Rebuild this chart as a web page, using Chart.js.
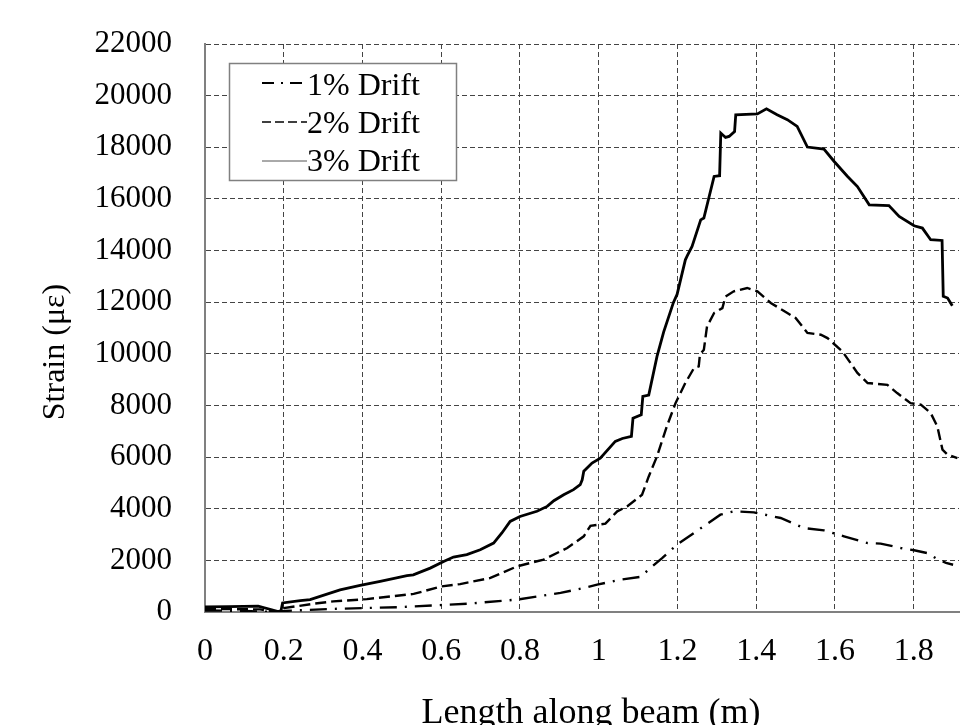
<!DOCTYPE html>
<html>
<head>
<meta charset="utf-8">
<script src="https://cdn.jsdelivr.net/npm/chart.js@4/dist/chart.umd.min.js"></script>
<style>
  html, body { margin: 0; padding: 0; background: #fff; overflow: hidden; }
  canvas { display: block; }
</style>
</head>
<body>
<canvas id="strainChart" width="961" height="750"></canvas>
<script>
// Series labels
const seriesLabels = ["1% Drift", "2% Drift", "3% Drift"];

// Tick labels
const xTicks = [0, 0.2, 0.4, 0.6, 0.8, 1, 1.2, 1.4, 1.6, 1.8];
const yTicks = [0, 2000, 4000, 6000, 8000, 10000, 12000, 14000, 16000, 18000, 20000, 22000];

// 1% Drift (dash-dot)
const drift1X = [0, 0.1, 0.186, 0.2, 0.326, 0.496, 0.665, 0.793, 0.903, 0.962, 0.996, 1.055, 1.106, 1.131, 1.161, 1.199, 1.254, 1.309, 1.343, 1.394, 1.462, 1.521, 1.572, 1.623, 1.683, 1.716, 1.767, 1.801, 1.835, 1.86, 1.882, 1.9];
const drift1Y = [60, 40, 0, 40, 120, 190, 320, 480, 740, 930, 1060, 1250, 1360, 1700, 2090, 2610, 3190, 3770, 3900, 3860, 3640, 3250, 3160, 2930, 2670, 2650, 2480, 2390, 2280, 2050, 1900, 1830];

// 2% Drift (dashed)
const drift2X = [0, 0.07, 0.14, 0.186, 0.2, 0.28, 0.326, 0.411, 0.47, 0.53, 0.6, 0.648, 0.725, 0.793, 0.86, 0.92, 0.962, 0.979, 1.017, 1.047, 1.072, 1.11, 1.127, 1.148, 1.173, 1.195, 1.22, 1.242, 1.254, 1.257, 1.267, 1.275, 1.293, 1.314, 1.322, 1.343, 1.377, 1.403, 1.437, 1.479, 1.5, 1.53, 1.564, 1.581, 1.619, 1.657, 1.683, 1.733, 1.758, 1.792, 1.818, 1.843, 1.86, 1.873, 1.886, 1.911];
const drift2Y = [120, 110, 100, 0, 150, 330, 410, 500, 600, 700, 990, 1080, 1320, 1770, 2030, 2480, 2930, 3340, 3420, 3900, 4090, 4540, 5250, 6030, 7190, 8090, 8870, 9450, 9510, 9970, 10160, 11060, 11580, 11770, 12220, 12420, 12550, 12420, 11970, 11580, 11390, 10810, 10740, 10610, 10090, 9260, 8870, 8800, 8480, 8090, 8030, 7710, 7190, 6290, 6090, 5960];

// 3% Drift (solid)
const drift3X = [0, 0.06, 0.135, 0.186, 0.193, 0.197, 0.242, 0.267, 0.343, 0.394, 0.445, 0.513, 0.529, 0.572, 0.606, 0.631, 0.665, 0.699, 0.733, 0.754, 0.775, 0.8, 0.843, 0.869, 0.886, 0.911, 0.936, 0.953, 0.958, 0.962, 0.983, 1.004, 1.042, 1.06, 1.083, 1.087, 1.108, 1.112, 1.127, 1.148, 1.165, 1.19, 1.199, 1.22, 1.225, 1.237, 1.259, 1.267, 1.293, 1.307, 1.31, 1.322, 1.331, 1.345, 1.348, 1.403, 1.426, 1.453, 1.479, 1.504, 1.53, 1.572, 1.598, 1.632, 1.657, 1.687, 1.737, 1.763, 1.801, 1.822, 1.843, 1.872, 1.875, 1.886, 1.898];
const drift3Y = [200, 210, 230, 20, 50, 350, 440, 480, 860, 1030, 1190, 1410, 1440, 1700, 1960, 2130, 2220, 2410, 2670, 3060, 3510, 3700, 3900, 4090, 4310, 4540, 4740, 4930, 5120, 5450, 5770, 5960, 6610, 6720, 6800, 7510, 7640, 8350, 8400, 9900, 10850, 12000, 12300, 13640, 13800, 14160, 15190, 15260, 16870, 16900, 18550, 18380, 18420, 18610, 19260, 19290, 19490, 19260, 19070, 18810, 18010, 17930, 17450, 16870, 16480, 15770, 15740, 15320, 14960, 14870, 14420, 14390, 12230, 12160, 11860];

const serif = "'Liberation Serif', 'Times New Roman', serif";

function toPoints(xs, ys) {
    return xs.map((x, i) => ({ x: x, y: ys[i] }));
}

// Legend box drawn inside the plot, like the original
const boxLegend = {
    id: 'boxLegend',
    afterDraw(chart) {
        const ctx = chart.ctx;
        ctx.save();
        ctx.fillStyle = '#fff';
        ctx.fillRect(229, 63, 227, 117);
        ctx.strokeStyle = '#808080';
        ctx.lineWidth = 1.5;
        ctx.strokeRect(229.5, 63.5, 227, 117);

        const lineY = [83, 122, 161];
        const textY = [94.5, 132.5, 171];
        const widths = [2, 1.3, 1];
        const dashes = [[12, 7, 2, 7], [9, 4], []];
        const colors = ['#000', '#000', '#555'];
        chart.data.datasets.forEach((ds, i) => {
            ctx.beginPath();
            ctx.setLineDash(dashes[i]);
            ctx.lineWidth = widths[i];
            ctx.strokeStyle = colors[i];
            ctx.moveTo(262, lineY[i]);
            ctx.lineTo(307, lineY[i]);
            ctx.stroke();
            ctx.setLineDash([]);
            ctx.fillStyle = '#000';
            ctx.font = '32px ' + serif;
            ctx.textBaseline = 'alphabetic';
            ctx.textAlign = 'left';
            ctx.fillText(ds.label, 307, textY[i]);
        });
        ctx.restore();
    }
};

const ctx = document.getElementById("strainChart");

new Chart(ctx, {
    type: 'line',
    data: {
        datasets: [
            {
                label: seriesLabels[0],
                data: toPoints(drift1X, drift1Y),
                borderColor: '#000',
                borderWidth: 2.4,
                borderDash: [17, 8, 2, 8],
                pointRadius: 0,
                tension: 0
            },
            {
                label: seriesLabels[1],
                data: toPoints(drift2X, drift2Y),
                borderColor: '#000',
                borderWidth: 2.4,
                borderDash: [11, 5],
                pointRadius: 0,
                tension: 0
            },
            {
                label: seriesLabels[2],
                data: toPoints(drift3X, drift3Y),
                borderColor: '#000',
                borderWidth: 2.8,
                pointRadius: 0,
                tension: 0
            }
        ]
    },
    options: {
        responsive: false,
        animation: false,
        layout: { padding: { left: 0, right: 2, top: 44, bottom: 0 } },
        plugins: {
            legend: { display: false },
            tooltip: { enabled: false }
        },
        scales: {
            x: {
                type: 'linear',
                min: 0,
                max: 1.915,
                afterBuildTicks: axis => {
                    axis.ticks = xTicks.map(v => ({ value: v }));
                },
                afterFit: scale => { scale.height = 138; },
                grid: { color: '#444', lineWidth: 1, drawTicks: false },
                border: { color: '#808080', width: 2, dash: [5, 3] },
                ticks: {
                    color: '#000',
                    padding: 20,
                    font: { family: serif, size: 32 },
                    callback: v => String(Math.round(v * 10) / 10)
                },
                title: {
                    display: true,
                    text: '  Length along beam (m)',
                    color: '#000',
                    font: { family: serif, size: 36 },
                    padding: { top: 0, bottom: 15 }
                }
            },
            y: {
                min: 0,
                max: 22000,
                afterBuildTicks: axis => {
                    axis.ticks = yTicks.map(v => ({ value: v }));
                },
                afterFit: scale => {
                    scale.width = 205;
                    scale.paddingTop = 0;
                    scale.paddingBottom = 0;
                },
                grid: { color: '#444', lineWidth: 1, drawTicks: false },
                border: { color: '#808080', width: 2, dash: [5, 3] },
                ticks: {
                    color: '#000',
                    padding: 33,
                    font: { family: serif, size: 31 },
                    callback: v => String(v)
                },
                title: {
                    display: true,
                    text: 'Strain (με)      ',
                    color: '#000',
                    font: { family: serif, size: 32 },
                    padding: { top: 36, bottom: 0 }
                }
            }
        }
    },
    plugins: [boxLegend]
});
</script>
</body>
</html>
